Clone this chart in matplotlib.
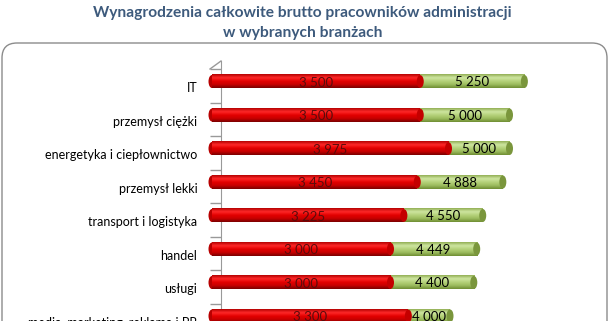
import numpy as np
import matplotlib.pyplot as plt
from matplotlib.colors import LinearSegmentedColormap
from matplotlib.patches import FancyBboxPatch, Ellipse
from matplotlib.transforms import ScaledTranslation, IdentityTransform
from matplotlib.lines import Line2D

categories = ["IT", "przemysł ciężki", "energetyka i ciepłownictwo", "przemysł lekki",
              "transport i logistyka", "handel", "usługi", "media, marketing, reklama i PR"]
low = [3500, 3500, 3975, 3450, 3225, 3000, 3000, 3300]
high = [5250, 5000, 5000, 4888, 4550, 4449, 4400, 4000]

W, H = 609, 321
plt.rcParams["font.family"] = ["Lato", "DejaVu Sans"]


def fmt(v):
    return f"{v:,}".replace(",", " ")


fig = plt.figure(figsize=(W / 100, H / 100), dpi=100)

# rounded frame around the plot area (continues below the crop)
frame = FancyBboxPatch((2, -60), 605, H - 43 + 60, boxstyle="round,pad=0,rounding_size=15",
                       transform=IdentityTransform(), facecolor="white",
                       edgecolor="#8c8c8c", lw=1.0, zorder=0)
fig.add_artist(frame)

fig.text(0.497, 1 - 13 / H, "Wynagrodzenia całkowite brutto pracowników administracji",
         ha="center", va="center", fontsize=11.2, fontweight="bold", color="#3d5a7c")
fig.text(0.497, 1 - 33 / H, "w wybranych branżach",
         ha="center", va="center", fontsize=11.2, fontweight="bold", color="#3d5a7c")

# axes: x0 at px 212, 0.0595 px per unit; row spacing 33.5 px, first row at px 81.5
upx = 1 / 0.0595
ax = fig.add_axes([205 / W, 1 - 420 / H, 395 / W, 360 / H])
ax.patch.set_visible(False)

n = len(categories)
y = np.arange(n)
bh = 0.39
capw = 7 * upx

red_cm = LinearSegmentedColormap.from_list("r", ["#b20000", "#ff2a2a", "#e40000", "#c80000", "#780000"])
green_cm = LinearSegmentedColormap.from_list("g", ["#90ad52", "#cfe6a2", "#b5d27a", "#9cbc5e", "#6e8c32"])
grad = np.linspace(0, 1, 64).reshape(-1, 1)

for i in range(n):
    lo, hi = low[i], high[i]
    # red segment (lower value)
    ax.add_patch(Ellipse((0, i), capw, bh, facecolor="#b80000", edgecolor="none", zorder=2))
    ax.imshow(grad, cmap=red_cm, extent=(0, lo, i + bh / 2, i - bh / 2),
              aspect="auto", interpolation="bicubic", zorder=3)
    # green segment stacked up to the higher value
    ax.imshow(grad, cmap=green_cm, extent=(lo, hi, i + bh / 2, i - bh / 2),
              aspect="auto", interpolation="bicubic", zorder=3)
    ax.add_patch(Ellipse((hi, i), capw, bh, facecolor="#7a963c", edgecolor="none", zorder=4))
    ax.add_patch(Ellipse((lo, i), capw, bh * 0.97, facecolor="#c40000", edgecolor="none", zorder=4))
    ax.text(lo / 2, i + 0.03, fmt(lo), ha="center", va="center", fontsize=9.5,
            color="#5a0c0c", zorder=5)
    ax.text((lo + hi) / 2, i + 0.02, fmt(hi), ha="center", va="center", fontsize=9.5,
            color="black", zorder=5)

ax.set_xlim(-7 * upx, 388 * upx)
ax.set_ylim((420 - 81.5) / 33.5, (60 - 81.5) / 33.5)

for s in ["top", "right", "bottom"]:
    ax.spines[s].set_visible(False)
ax.spines["left"].set_position(("data", 9 * upx))
ax.spines["left"].set_color("#999999")
ax.spines["left"].set_bounds((61 - 81.5) / 33.5, 10)
ax.set_xticks([])

ax.set_yticks(y)
ax.set_yticklabels(categories, fontsize=9, color="black")
ax.tick_params(axis="y", which="major", length=0, pad=17)
ax.set_yticks(np.arange(n + 2) - 0.37, minor=True)
ax.tick_params(axis="y", which="minor", length=8, color="#999999", width=1)

shift = ScaledTranslation(0, -4 / 72, fig.dpi_scale_trans)
for lab in ax.get_yticklabels():
    lab.set_transform(lab.get_transform() + shift)

# small slanted edge of the 3D wall at the top of the axis
fig.add_artist(Line2D([210, 221], [H - 69, H - 61], transform=IdentityTransform(),
                      color="#999999", lw=1))

fig.savefig("out.png", dpi=100)
